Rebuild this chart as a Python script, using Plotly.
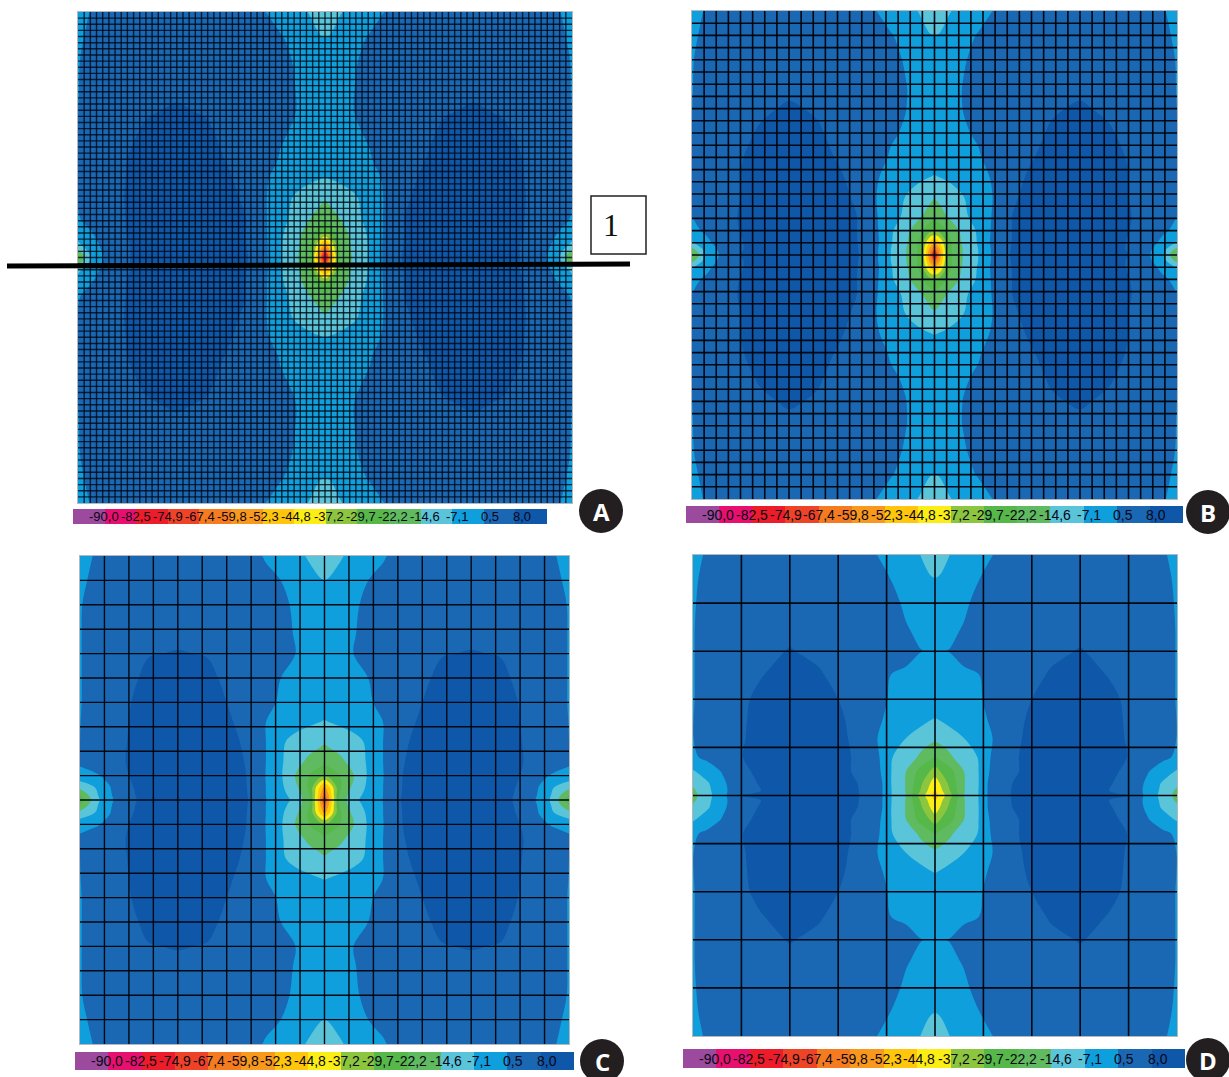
import numpy as np
import plotly.graph_objects as go

W, H = 1229, 1077

# colour-legend levels, labels and band colours (one band below, one above the levels)
levels = [-90.0, -82.5, -74.9, -67.4, -59.8, -52.3, -44.8, -37.2, -29.7, -22.2, -14.6, -7.1, 0.5, 8.0]
level_labels = ["-90,0", "-82,5", "-74,9", "-67,4", "-59,8", "-52,3", "-44,8", "-37,2",
                "-29,7", "-22,2", "-14,6", "-7,1", "0,5", "8,0"]
band_colors = ["#9c4a9e", "#e8106e", "#ec1c2a", "#ee4326", "#f47b20", "#f8981d", "#ffc60b", "#fbee14",
               "#8cc63f", "#55b848", "#5fba60", "#5ac4d9", "#0f9fdc", "#1a68b3", "#0f57a8"]

panel_names = ["A", "B", "C", "D"]
mesh_cells = [80, 40, 20, 10]

# quarter-plate sample positions (fraction of plate, edge -> centre)
u_nodes = [0, .03, .06, .10, .14, .20, .26, .30, .34, .38, .41, .44, .47, .49, .5]
v_nodes = [0, .05, .10, .16, .20, .25, .30, .34, .38, .42, .45, .475, .49, .5]

# values, top-left quarter of the plate
z_a = [
 [-3, 1.5, 5, 6, 6, 6, 6, 6, 5, .5, -3, -5, -7.5, -11, -12],
 [-1, 2.5, 5, 6, 6, 6, 6, 6, 5, 3, 1, -2, -5, -6.8, -7.2],
 [0, 3.5, 6, 6.5, 6.8, 7, 6.8, 6.5, 6, 4, 2, 0, -2, -3, -3],
 [.2, 4, 6, 7, 7.3, 7.7, 7.3, 7, 6.5, 5, 3, .5, -2, -2.5, -3],
 [.4, 4, 6, 7, 7.8, 8.2, 7.8, 7.3, 7, 5, 2.5, .6, -1.5, -2, -2.5],
 [.5, 4, 6, 7.6, 8.4, 9.2, 8.4, 7.5, 6.5, 3.5, 1, -.3, -2.5, -3, -3],
 [.6, 4, 6.5, 8, 9, 10, 9, 7.9, 6.5, 2.5, 0, -2, -3, -3.5, -4],
 [.7, 4.5, 7, 8.1, 9.5, 10.5, 10, 8.5, 7, 1, -1.5, -4.5, -6, -7, -7.4],
 [.7, 4.5, 7, 8.2, 10, 11.5, 10.5, 9, 7.5, .8, -4, -8, -11, -12.5, -14],
 [0, 3, 6, 8.2, 11, 12, 11, 9.5, 8, 1, -5, -9, -14.5, -18, -20],
 [-3, .5, 5, 8.2, 11, 12.5, 11.5, 10, 8, 1.2, -6, -11, -19, -27, -30],
 [-9, -1.5, 3, 7.5, 11, 12.5, 11.5, 10, 8.2, 1.5, -6.5, -12, -22, -46, -55],
 [-18, -3, 2.5, 7.5, 11, 12.5, 11.5, 10, 8.5, 1.5, -6.5, -12.5, -22, -55, -75],
 [-24, -4, 2, 7.5, 11, 12.5, 11.5, 10, 8.8, 1.5, -6.5, -13, -22, -60, -90],
]
z_b = [
 [-3, 1.5, 5, 6, 6, 6, 6, 6, 5, .5, -3, -5, -7.5, -10, -11],
 [-1, 2.5, 5, 6, 6, 6, 6, 6, 5, 3, 1, -2, -5, -6.8, -7.2],
 [0, 3.5, 6, 6.5, 6.8, 7, 6.8, 6.5, 6, 4, 2, 0, -2, -3, -3],
 [.2, 4, 6, 7, 7.3, 7.7, 7.3, 7, 6.5, 5, 3, .8, -2, -2.5, -3],
 [.4, 4, 6, 7, 7.7, 8.2, 7.8, 7.3, 7, 5, 2.5, .6, -1.5, -2, -2.5],
 [.5, 4, 6, 7.5, 8.2, 9.2, 8.2, 7.5, 6.5, 3.5, 1, 0, -2.5, -3, -3],
 [.6, 4, 6.5, 7.8, 9, 10, 9, 7.8, 6.5, 2, 0, -2, -3, -3.5, -4],
 [.7, 4.5, 7, 8, 9.5, 10.5, 10, 8.5, 7, 1, -1.5, -4.5, -6, -7, -7.4],
 [.7, 4.5, 7, 8, 10, 11.5, 10.5, 9, 7.5, .5, -3, -7.1, -10, -12.5, -13.5],
 [.5, 4, 7, 8.2, 11, 12, 11, 9.5, 8, 1, -5, -8, -13.5, -18, -20],
 [-1, 1.5, 5, 8.2, 11, 12.5, 11.5, 10, 8, 1.5, -6, -12, -20, -27, -29],
 [-8, -1, 3, 7.5, 11, 12.5, 11.5, 10, 8.2, 2, -6.5, -13, -24, -46, -52],
 [-18, -4, 2, 7.5, 11, 12.5, 11.5, 10, 8.5, 1.5, -7.1, -14, -24, -55, -70],
 [-24, -5, 1.5, 8.2, 11, 12.5, 11.5, 10, 8.8, 1.5, -7.1, -14, -24, -58, -85],
]
z_c = [
 [-3, 1, 5, 6, 6, 6, 6, 6, 5, -.5, -3, -5, -8, -11, -12],
 [-1, 2, 5, 6, 6, 6, 6, 6, 5, 3, .5, -2, -5, -6.5, -7.2],
 [0, 3, 5, 6, 7, 7, 7, 7, 6, 4, 2, -.5, -2, -3, -3],
 [0, 4, 6, 7, 7.4, 7.6, 7.4, 7, 6.5, 5, 3, 0, -2, -2.5, -3],
 [0, 4, 6, 7, 7.9, 8.1, 7.9, 7.5, 7, 5, 3, .5, -1.5, -2, -2.5],
 [0, 4, 6, 7.5, 8.5, 9.2, 8.5, 7.6, 6.5, 3.5, .5, -1.5, -2.5, -3, -3],
 [0, 4, 6.5, 7.8, 9.5, 10, 9, 8, 6.5, 2.5, -.5, -2, -3, -3.5, -4],
 [.3, 4, 7, 8, 10, 11, 10, 8.5, 7, .5, -2.5, -4.5, -6, -7, -7.4],
 [.3, 4, 7, 8.1, 10.5, 11.5, 10.5, 9, 7.5, .5, -6, -9, -11, -12.5, -13.5],
 [2, 4, 7, 8.2, 11, 12, 11, 9.5, 7.8, .5, -6, -11.5, -16.5, -19, -20],
 [-2, -.5, 2, 8, 11, 12.5, 11.5, 10, 8, .3, -6, -14.6, -22.5, -26, -28],
 [-13, -7.5, 0, 7, 11, 12.5, 11.5, 10, 8.2, .5, -5.5, -12, -24, -46, -55],
 [-22, -9, -.5, 6.5, 11, 12.5, 11.5, 10, 8.5, .5, -5.5, -9, -22, -50, -65],
 [-27, -10, -1, 6, 11, 12.5, 11.5, 10, 8.8, .7, -5.5, -8, -22, -52, -75],
]
z_d = [
 [-3, 2, 6, 6.5, 6.5, 6.5, 6.5, 6.5, 5, .5, -3, -5, -7.1, -10, -11],
 [-1, 3, 6, 6.5, 6.5, 6.5, 6.5, 6.5, 5.5, 3, .3, -2, -5, -6.5, -6.9],
 [-.5, 4, 6, 7, 7, 7, 7, 7, 6, 4, 2, -.5, -2, -3, -3],
 [0, 4, 6, 7, 7.3, 7.6, 7.3, 7, 6.5, 5, 3.5, 1, -.5, -1, -1.5],
 [0, 4, 6, 7, 7.5, 8.1, 7.6, 7.2, 7, 6, 5, 3, .6, .2, 0],
 [0, 4, 6.5, 7.4, 7.9, 8.8, 8.2, 7.5, 6.5, 4, .2, -1, -2, -2.5, -2.5],
 [0, 4, 6.5, 7.6, 8.5, 9.2, 9, 8, 7, 3, -.5, -1.5, -2.5, -3, -3],
 [.3, 4, 6.5, 7.7, 8.7, 9.5, 9.3, 8.5, 7, 1.5, -1, -2.5, -4.5, -6.5, -7.3],
 [.3, 4, 6.5, 7.8, 8.7, 9.7, 9.5, 8.8, 7.2, .6, -3, -7, -10.5, -12, -12.5],
 [-.5, 2, 7, 7.9, 9, 10, 9.5, 9, 7.5, 2, -6.8, -10, -16, -20, -22],
 [-8, -3, .8, 7, 9, 10, 9.5, 9, 7.5, 3, -7.1, -14.6, -25, -30, -33],
 [-13, -8, -1, 5.5, 8.5, 10.5, 10, 9.5, 8, 5, -7.2, -15, -28, -37.2, -42],
 [-16, -9, -1.5, 5.5, 8, 10.5, 10.3, 9.8, 8.2, 5, -7, -15, -30, -40, -46],
 [-17, -9.5, -2, 8.2, 10, 10.5, 10.5, 10, 8.3, 5, -7, -14.6, -33, -42, -50],
]
panel_values = [z_a, z_b, z_c, z_d]

# pixel layout: plate box (x0, x1, y0, y1), legend box, badge centre
plate_boxes = [(78, 572, 12, 503), (692, 1177, 11, 499), (80, 569, 556, 1044), (693, 1177, 555, 1036)]
legend_boxes = [(73, 547, 509, 524), (686, 1183, 506, 523), (75, 574, 1052, 1070), (683, 1185, 1049, 1068)]
badge_centres = [(601, 511), (1208, 512), (602, 1061), (1208, 1060)]
mesh_widths = [1.4, 1.6, 1.4, 1.6]
mesh_colors = ["rgba(2,8,18,0.8)", "#020812", "#020812", "#020812"]
label_sizes = [13, 14, 14, 14]


def px(x):
    return x / W


def py(y):
    return 1 - y / H


step = (levels[-1] - levels[0]) / (len(levels) - 1)
scale_colors = [[i / (len(band_colors) - 1), c] for i, c in enumerate(band_colors)]
u = np.array(u_nodes)
v = np.array(v_nodes)
x_full = np.concatenate([u, 1 - u[-2::-1]])
y_full = np.concatenate([v, 1 - v[-2::-1]])
band_edges = [levels[0] - step] + levels + [levels[-1] + step]

fig = go.Figure()
layout_axes = {}
annotations = []
shapes = []
for i, name in enumerate(panel_names):
    ax_p = 2 * i + 1
    ax_l = 2 * i + 2
    q = np.array(panel_values[i], dtype=float)
    top = np.hstack([q, q[:, -2::-1]])
    z_full = np.vstack([top, top[-2::-1, :]])
    fig.add_trace(go.Contour(
        x=x_full, y=y_full, z=z_full, xaxis=f"x{ax_p}", yaxis=f"y{ax_p}",
        colorscale=scale_colors, showscale=False, hoverinfo="skip",
        contours=dict(coloring="fill", start=levels[0], end=levels[-1], size=step, showlines=False),
        line=dict(width=0),
    ))
    # element mesh
    n = mesh_cells[i]
    gx, gy = [], []
    for k in range(1, n):
        gx += [k / n, k / n, None, 0, 1, None]
        gy += [0, 1, None, k / n, k / n, None]
    fig.add_trace(go.Scatter(x=gx, y=gy, mode="lines", xaxis=f"x{ax_p}", yaxis=f"y{ax_p}",
                             line=dict(color=mesh_colors[i], width=mesh_widths[i]),
                             hoverinfo="skip", showlegend=False))
    x0, x1, y0, y1 = plate_boxes[i]
    common = dict(showgrid=False, zeroline=False, showticklabels=False, ticks="",
                  showline=True, mirror=True, linecolor="#b4b8bc", linewidth=1)
    layout_axes[f"xaxis{ax_p}"] = dict(domain=[px(x0), px(x1)], range=[0, 1], anchor=f"y{ax_p}", **common)
    layout_axes[f"yaxis{ax_p}"] = dict(domain=[py(y1), py(y0)], range=[1, 0], anchor=f"x{ax_p}", **common)

    # colour legend
    fig.add_trace(go.Heatmap(x=band_edges, y=[0, 1], z=[list(range(len(band_colors)))],
                             xaxis=f"x{ax_l}", yaxis=f"y{ax_l}", colorscale=scale_colors,
                             zmin=0, zmax=len(band_colors) - 1, showscale=False, hoverinfo="skip"))
    lx0, lx1, ly0, ly1 = legend_boxes[i]
    plain = dict(showgrid=False, zeroline=False, showticklabels=False, ticks="", showline=False)
    layout_axes[f"xaxis{ax_l}"] = dict(domain=[px(lx0), px(lx1)], range=[band_edges[0], band_edges[-1]],
                                       anchor=f"y{ax_l}", **plain)
    layout_axes[f"yaxis{ax_l}"] = dict(domain=[py(ly1), py(ly0)], range=[0, 1], anchor=f"x{ax_l}", **plain)
    for k, (val, lab) in enumerate(zip(levels, level_labels)):
        annotations.append(dict(x=val, y=0.5, xref=f"x{ax_l}", yref=f"y{ax_l}", text=lab, showarrow=False,
                                xanchor="center", yanchor="middle", xshift=-1 + 0.55 * k,
                                font=dict(family="Liberation Sans", size=label_sizes[i], color="#0a0614")))

    # panel badge
    cx, cy = badge_centres[i]
    r = 22
    shapes.append(dict(type="circle", xref="paper", yref="paper", x0=px(cx - r), x1=px(cx + r),
                       y0=py(cy + r), y1=py(cy - r), fillcolor="#231f20", line=dict(width=0)))
    annotations.append(dict(x=px(cx), y=py(cy), xref="paper", yref="paper", text=f"<b>{name}</b>", showarrow=False,
                            xanchor="center", yanchor="middle",
                            font=dict(family="Open Sans, Liberation Sans", size=24, color="white")))

# section marker on panel A
shapes.append(dict(type="line", xref="paper", yref="paper", x0=px(7), x1=px(630), y0=py(266), y1=py(264),
                   line=dict(color="black", width=5)))
shapes.append(dict(type="rect", xref="paper", yref="paper", x0=px(591), x1=px(646), y0=py(254), y1=py(196),
                   fillcolor="white", line=dict(color="#222", width=1.5)))
annotations.append(dict(x=px(611), y=py(225), xref="paper", yref="paper", text="1", showarrow=False,
                        xanchor="center", yanchor="middle",
                        font=dict(family="Liberation Serif", size=32, color="#111")))

fig.update_layout(width=W, height=H, autosize=False, margin=dict(l=0, r=0, t=0, b=0),
                  paper_bgcolor="white", plot_bgcolor="white", showlegend=False,
                  annotations=annotations, shapes=shapes, **layout_axes)
fig.write_html("out.html", config={"displayModeBar": False},
               post_script="document.body.style.margin='0';document.body.style.overflow='hidden';")
